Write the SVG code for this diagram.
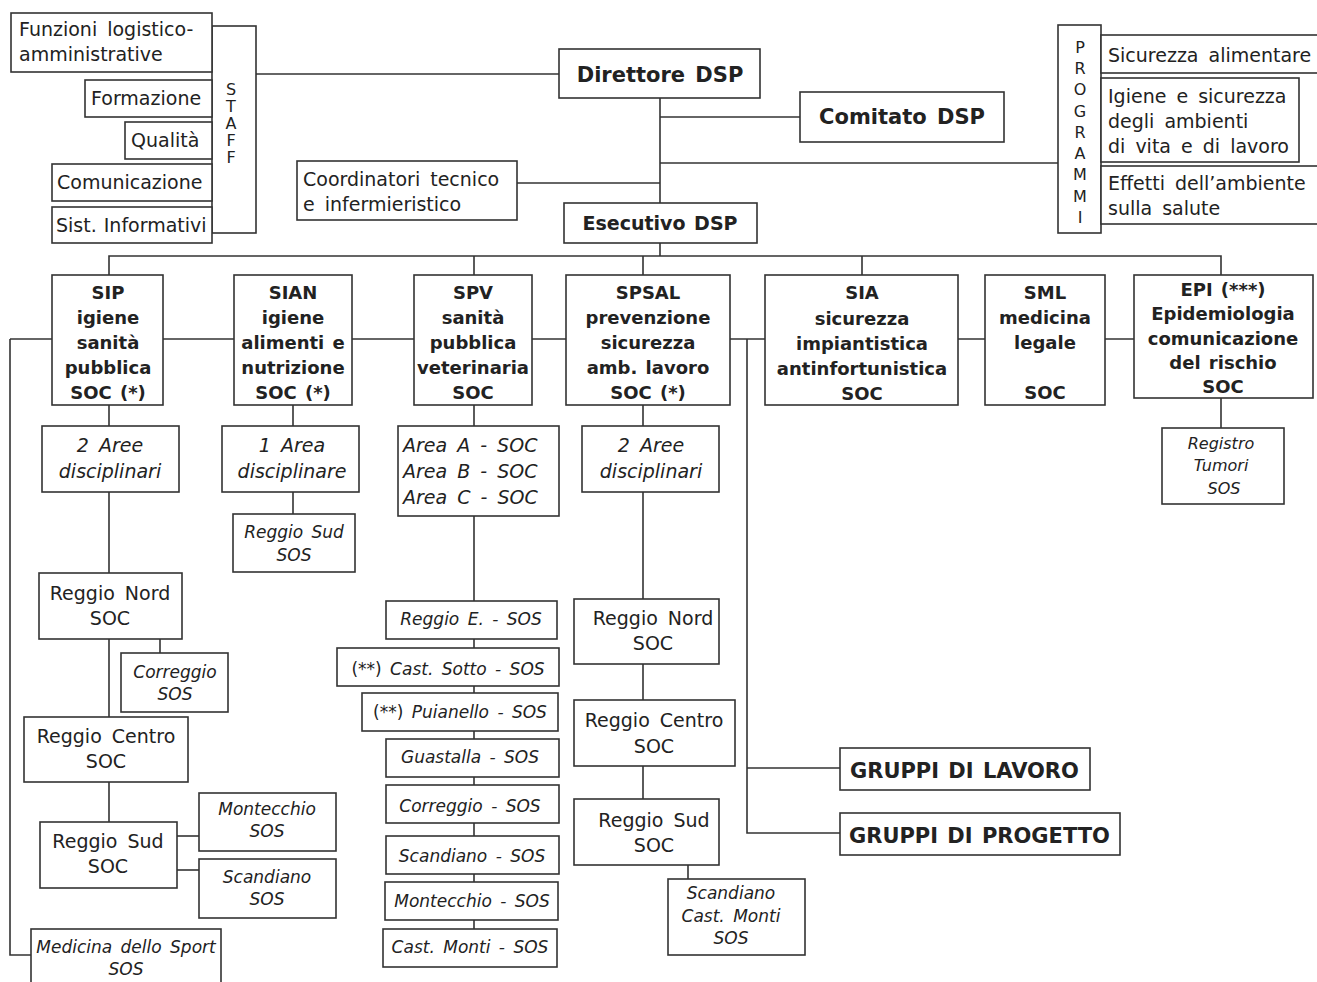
<svg xmlns="http://www.w3.org/2000/svg" width="1317" height="982" viewBox="0 0 1317 982">
<style>
rect{fill:#fff;stroke:#333;stroke-width:1.6}
.c line,.c path{stroke:#333;stroke-width:1.6;fill:none}
text{font-family:"DejaVu Sans","Liberation Sans",sans-serif;fill:#222;font-size:19px;word-spacing:4px}
.b{font-weight:bold;font-size:18px;word-spacing:2px}
.i{font-style:italic}
.m{text-anchor:middle}
.s{font-size:17px;word-spacing:3px}
.xs{font-size:16px}
.v{font-size:16px}
.big{font-size:21px;word-spacing:3px}
.g{font-size:21px;word-spacing:2px}
</style>
<rect x="0" y="0" width="1317" height="982" style="stroke:none"/>
<g class="c" id="connectors">
<line x1="256" y1="74" x2="559" y2="74"/>
<line x1="660" y1="98" x2="660" y2="256"/>
<line x1="660" y1="117" x2="800" y2="117"/>
<line x1="660" y1="163" x2="1058" y2="163"/>
<line x1="517" y1="183" x2="660" y2="183"/>
<path d="M109 275V256H1221V275M474 256V275M643 256V275M862 256V275"/>
<line x1="10" y1="339" x2="1134" y2="339"/>
<path d="M10 339V955H31"/>
<line x1="109" y1="405" x2="109" y2="822"/>
<line x1="160" y1="639" x2="160" y2="653"/>
<line x1="177" y1="836" x2="199" y2="836"/>
<line x1="177" y1="870" x2="199" y2="870"/>
<line x1="293" y1="405" x2="293" y2="514"/>
<line x1="474" y1="405" x2="474" y2="929"/>
<line x1="643" y1="405" x2="643" y2="799"/>
<line x1="688" y1="865" x2="688" y2="879"/>
<path d="M747 339V833H840M747 768H840"/>
<line x1="1221" y1="398" x2="1221" y2="428"/>
</g>
<g id="staff">
<rect x="212" y="26" width="44" height="207"/>
<text class="m v" x="231" y="95">S</text>
<text class="m v" x="231" y="112">T</text>
<text class="m v" x="231" y="129">A</text>
<text class="m v" x="231" y="146">F</text>
<text class="m v" x="231" y="163">F</text>
</g>
<g id="funzioni"><rect x="11" y="13" width="201" height="59"/><text x="19" y="36">Funzioni logistico-</text><text x="19" y="61">amministrative</text></g>
<g id="formazione"><rect x="85" y="80" width="127" height="37"/><text x="91" y="105">Formazione</text></g>
<g id="qualita"><rect x="125" y="122" width="87" height="37"/><text x="131" y="147">Qualità</text></g>
<g id="comunicazione"><rect x="52" y="164" width="160" height="37"/><text x="57" y="189">Comunicazione</text></g>
<g id="sist"><rect x="52" y="207" width="160" height="36"/><text x="56" y="232" style="word-spacing:1px">Sist. Informativi</text></g>
<g id="direttore"><rect x="559" y="49" width="201" height="49"/><text class="b m big" x="660" y="82">Direttore DSP</text></g>
<g id="comitato"><rect x="800" y="92" width="204" height="50"/><text class="b m big" x="902" y="124">Comitato DSP</text></g>
<g id="coordinatori"><rect x="297" y="161" width="220" height="59"/><text x="303" y="186">Coordinatori tecnico</text><text x="303" y="211">e infermieristico</text></g>
<g id="esecutivo"><rect x="564" y="203" width="193" height="40"/><text class="b m" x="660" y="230" style="font-size:19px">Esecutivo DSP</text></g>
<g id="programmi">
<rect x="1058" y="25" width="43" height="208"/>
<text class="m v" x="1080" y="53">P</text>
<text class="m v" x="1080" y="74">R</text>
<text class="m v" x="1080" y="95">O</text>
<text class="m v" x="1080" y="117">G</text>
<text class="m v" x="1080" y="138">R</text>
<text class="m v" x="1080" y="159">A</text>
<text class="m v" x="1080" y="180">M</text>
<text class="m v" x="1080" y="202">M</text>
<text class="m v" x="1080" y="223">I</text>
</g>
<g id="sicurezza-alimentare"><rect x="1101" y="35" width="220" height="38"/><text x="1108" y="62">Sicurezza alimentare</text></g>
<g id="igiene-ambienti"><rect x="1101" y="78" width="198" height="84"/><text x="1108" y="103">Igiene e sicurezza</text><text x="1108" y="128">degli ambienti</text><text x="1108" y="153">di vita e di lavoro</text></g>
<g id="effetti"><rect x="1101" y="166" width="220" height="58"/><text x="1108" y="190">Effetti dell’ambiente</text><text x="1108" y="215">sulla salute</text></g>

<g id="sip"><rect x="52" y="275" width="111" height="130"/>
<text class="b m" x="108" y="299">SIP</text><text class="b m" x="108" y="324">igiene</text><text class="b m" x="108" y="349">sanità</text><text class="b m" x="108" y="374">pubblica</text><text class="b m" x="108" y="399">SOC (*)</text></g>
<g id="sian"><rect x="234" y="275" width="118" height="130"/>
<text class="b m" x="293" y="299">SIAN</text><text class="b m" x="293" y="324">igiene</text><text class="b m" x="293" y="349">alimenti e</text><text class="b m" x="293" y="374">nutrizione</text><text class="b m" x="293" y="399">SOC (*)</text></g>
<g id="spv"><rect x="414" y="275" width="118" height="130"/>
<text class="b m" x="473" y="299">SPV</text><text class="b m" x="473" y="324">sanità</text><text class="b m" x="473" y="349">pubblica</text><text class="b m" x="473" y="374">veterinaria</text><text class="b m" x="473" y="399">SOC</text></g>
<g id="spsal"><rect x="566" y="275" width="164" height="130"/>
<text class="b m" x="648" y="299">SPSAL</text><text class="b m" x="648" y="324">prevenzione</text><text class="b m" x="648" y="349">sicurezza</text><text class="b m" x="648" y="374">amb. lavoro</text><text class="b m" x="648" y="399">SOC (*)</text></g>
<g id="sia"><rect x="765" y="275" width="193" height="130"/>
<text class="b m" x="862" y="299">SIA</text><text class="b m" x="862" y="325">sicurezza</text><text class="b m" x="862" y="350">impiantistica</text><text class="b m" x="862" y="375">antinfortunistica</text><text class="b m" x="862" y="400">SOC</text></g>
<g id="sml"><rect x="985" y="275" width="120" height="130"/>
<text class="b m" x="1045" y="299">SML</text><text class="b m" x="1045" y="324">medicina</text><text class="b m" x="1045" y="349">legale</text><text class="b m" x="1045" y="399">SOC</text></g>
<g id="epi"><rect x="1134" y="275" width="179" height="123"/>
<text class="b m" x="1223" y="296">EPI (***)</text><text class="b m" x="1223" y="320">Epidemiologia</text><text class="b m" x="1223" y="345">comunicazione</text><text class="b m" x="1223" y="369">del rischio</text><text class="b m" x="1223" y="393">SOC</text></g>

<g id="sip-aree"><rect x="42" y="426" width="137" height="66"/><text class="i m" x="110" y="452">2 Aree</text><text class="i m" x="110" y="478">disciplinari</text></g>
<g id="sip-nord"><rect x="39" y="573" width="143" height="66"/><text class="m" x="110" y="600">Reggio Nord</text><text class="m" x="110" y="625">SOC</text></g>
<g id="sip-correggio"><rect x="121" y="653" width="107" height="59"/><text class="i m s" x="175" y="678">Correggio</text><text class="i m s" x="175" y="700">SOS</text></g>
<g id="sip-centro"><rect x="24" y="717" width="164" height="65"/><text class="m" x="106" y="743">Reggio Centro</text><text class="m" x="106" y="768">SOC</text></g>
<g id="sip-sud"><rect x="40" y="822" width="137" height="66"/><text class="m" x="108" y="848">Reggio Sud</text><text class="m" x="108" y="873">SOC</text></g>
<g id="sip-montecchio"><rect x="199" y="793" width="137" height="58"/><text class="i m s" x="267" y="815">Montecchio</text><text class="i m s" x="267" y="837">SOS</text></g>
<g id="sip-scandiano"><rect x="199" y="859" width="137" height="59"/><text class="i m s" x="267" y="883">Scandiano</text><text class="i m s" x="267" y="905">SOS</text></g>
<g id="sip-sport"><rect x="31" y="929" width="190" height="60"/><text class="i m s" x="126" y="953">Medicina dello Sport</text><text class="i m s" x="126" y="975">SOS</text></g>

<g id="sian-area"><rect x="222" y="426" width="137" height="66"/><text class="i m" x="292" y="452">1 Area</text><text class="i m" x="292" y="478">disciplinare</text></g>
<g id="sian-sud"><rect x="233" y="514" width="122" height="58"/><text class="i m s" x="294" y="538">Reggio Sud</text><text class="i m s" x="294" y="561">SOS</text></g>

<g id="spv-aree"><rect x="398" y="426" width="161" height="90"/><text class="i" x="403" y="452">Area A - SOC</text><text class="i" x="403" y="478">Area B - SOC</text><text class="i" x="403" y="504">Area C - SOC</text></g>
<g id="spv-reggio"><rect x="386" y="601" width="171" height="38"/><text class="i m s" x="471" y="625">Reggio E. - SOS</text></g>
<g id="spv-castsotto"><rect x="337" y="648" width="222" height="38"/><text class="m s" x="448" y="675">(**) <tspan class="i">Cast. Sotto - SOS</tspan></text></g>
<g id="spv-puianello"><rect x="362" y="693" width="196" height="38"/><text class="m s" x="460" y="718">(**) <tspan class="i">Puianello - SOS</tspan></text></g>
<g id="spv-guastalla"><rect x="386" y="739" width="173" height="38"/><text class="i m s" x="470" y="763">Guastalla - SOS</text></g>
<g id="spv-correggio"><rect x="386" y="785" width="173" height="38"/><text class="i m s" x="470" y="812">Correggio - SOS</text></g>
<g id="spv-scandiano"><rect x="386" y="836" width="173" height="38"/><text class="i m s" x="472" y="862">Scandiano - SOS</text></g>
<g id="spv-montecchio"><rect x="385" y="882" width="173" height="38"/><text class="i m s" x="472" y="907">Montecchio - SOS</text></g>
<g id="spv-castmonti"><rect x="383" y="929" width="174" height="38"/><text class="i m s" x="470" y="953">Cast. Monti - SOS</text></g>

<g id="spsal-aree"><rect x="582" y="426" width="137" height="66"/><text class="i m" x="651" y="452">2 Aree</text><text class="i m" x="651" y="478">disciplinari</text></g>
<g id="spsal-nord"><rect x="574" y="599" width="145" height="65"/><text class="m" x="653" y="625">Reggio Nord</text><text class="m" x="653" y="650">SOC</text></g>
<g id="spsal-centro"><rect x="574" y="700" width="161" height="66"/><text class="m" x="654" y="727">Reggio Centro</text><text class="m" x="654" y="753">SOC</text></g>
<g id="spsal-sud"><rect x="574" y="799" width="145" height="66"/><text class="m" x="654" y="827">Reggio Sud</text><text class="m" x="654" y="852">SOC</text></g>
<g id="spsal-scandiano"><rect x="668" y="879" width="137" height="76"/><text class="i m s" x="731" y="899">Scandiano</text><text class="i m s" x="731" y="922">Cast. Monti</text><text class="i m s" x="731" y="944">SOS</text></g>

<g id="registro"><rect x="1162" y="428" width="122" height="76"/><text class="i m xs" x="1221" y="449">Registro</text><text class="i m xs" x="1221" y="471">Tumori</text><text class="i m xs" x="1224" y="494">SOS</text></g>

<g id="gruppi-lavoro"><rect x="840" y="748" width="250" height="42"/><text class="b g" x="850" y="778">GRUPPI DI LAVORO</text></g>
<g id="gruppi-progetto"><rect x="840" y="813" width="280" height="42"/><text class="b g" x="849" y="843">GRUPPI DI PROGETTO</text></g>
</svg>
